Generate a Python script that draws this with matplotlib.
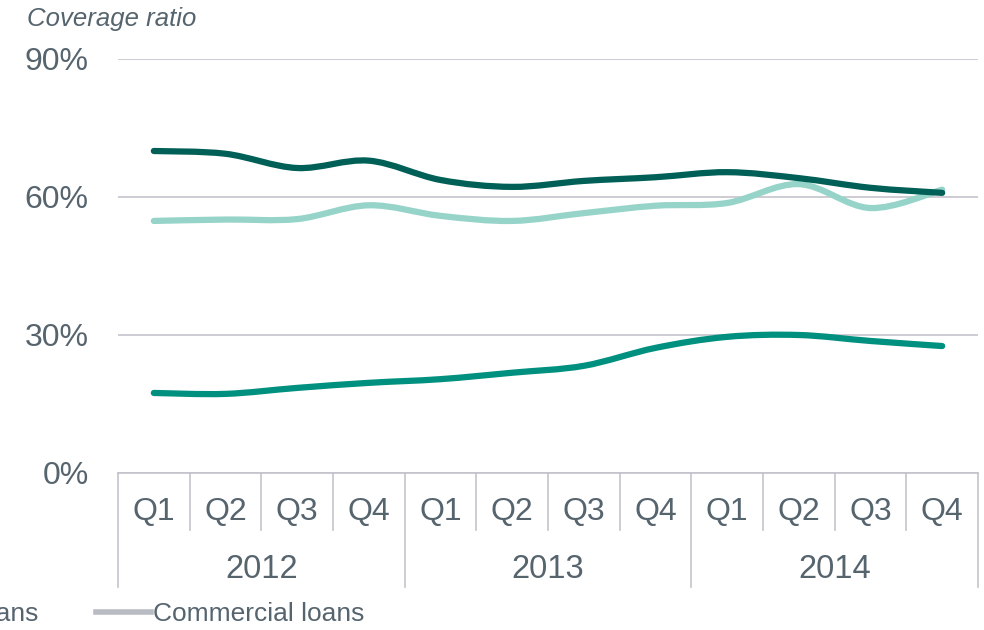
import numpy as np
import matplotlib
matplotlib.use("Agg")
import matplotlib.pyplot as plt
from matplotlib.path import Path
from matplotlib.patches import PathPatch
from matplotlib.lines import Line2D

plt.rcParams['font.family'] = ['Liberation Sans', 'DejaVu Sans']

# data
years = ["2012", "2013", "2014"]
quarters = ["Q1", "Q2", "Q3", "Q4"]
dark = [70.0, 69.4, 66.3, 67.9, 63.7, 62.2, 63.5, 64.3, 65.4, 64.1, 62.0, 60.9]
light = [54.8, 55.1, 55.2, 58.2, 55.9, 54.8, 56.5, 58.1, 58.7, 62.8, 57.6, 61.6]
mid = [17.4, 17.2, 18.5, 19.6, 20.4, 21.8, 23.3, 27.2, 29.6, 30.0, 28.7, 27.6]
legend_labels = ["Consumer loans", "Commercial loans"]

txt = "#56646e"
grid = "#c3c4cb"

fig = plt.figure(figsize=(9.84, 6.3), dpi=100)
ax = fig.add_axes([118/984, 1-473/630, 860/984, 414/630])
n = len(dark)
x = np.arange(n)
ax.set_xlim(-0.5, n-0.5)
ax.set_ylim(0, 90)


def smooth_path(xs, ys):
    # excel-like smoothed line: cubic bezier through every point
    pts = np.column_stack([xs, ys]).astype(float)
    verts = [pts[0]]
    codes = [Path.MOVETO]
    for i in range(len(pts)-1):
        p0 = pts[i-1] if i > 0 else pts[i]
        p1 = pts[i]
        p2 = pts[i+1]
        p3 = pts[i+2] if i+2 < len(pts) else pts[i+1]
        c1 = p1 + (p2 - p0) / 6
        c2 = p2 - (p3 - p1) / 6
        verts += [c1, c2, p2]
        codes += [Path.CURVE4]*3
    return Path(verts, codes)


for ys, col in [(mid, "#00907f"), (light, "#96d3c9"), (dark, "#005f56")]:
    ax.add_patch(PathPatch(smooth_path(x, ys), fill=False, edgecolor=col,
                           lw=4.5, capstyle='round', joinstyle='round'))

ax.set_yticks([0, 30, 60, 90])
ax.set_yticklabels([f"{v}%" for v in [0, 30, 60, 90]])
ax.tick_params(axis='y', length=0, pad=21, labelsize=23, labelcolor=txt)
ax.set_xticks([])
ax.grid(axis='y', color=grid, lw=1.2)
ax.set_axisbelow(True)
for s in ["top", "right", "left"]:
    ax.spines[s].set_visible(False)
ax.spines["bottom"].set_color(grid)
ax.spines["bottom"].set_linewidth(1.2)

# two level category axis
tr = ax.get_xaxis_transform()
q_bot = (473-530)/414
y_bot = (473-587)/414
for i in range(n+1):
    xb = i - 0.5
    yb = y_bot if i % 4 == 0 else q_bot
    ax.plot([xb, xb], [0, yb], transform=tr, color=grid, lw=1.2, clip_on=False)
for i in range(n):
    ax.text(i, (473-512)/414, quarters[i % 4], transform=tr, ha='center', va='center',
            fontsize=23, color=txt)
for j, yr in enumerate(years):
    ax.text(j*4+1.5, (473-570)/414, yr, transform=tr, ha='center', va='center',
            fontsize=23.5, color=txt)

fig.text(27/984, 1-19/630, "Coverage ratio", fontsize=18.5, style='italic', color=txt,
         va='center', ha='left')

# legend, partly cut off at the left edge
fig.text(38/984, 1-614/630, legend_labels[0], fontsize=19, color=txt, ha='right', va='center')
fig.add_artist(Line2D([96/984, 151/984], [1-612/630, 1-612/630], color="#b8bcc2", lw=4,
                      transform=fig.transFigure))
fig.text(153/984, 1-614/630, legend_labels[1], fontsize=19, color=txt, ha='left', va='center')

fig.savefig("out.png", dpi=100)
